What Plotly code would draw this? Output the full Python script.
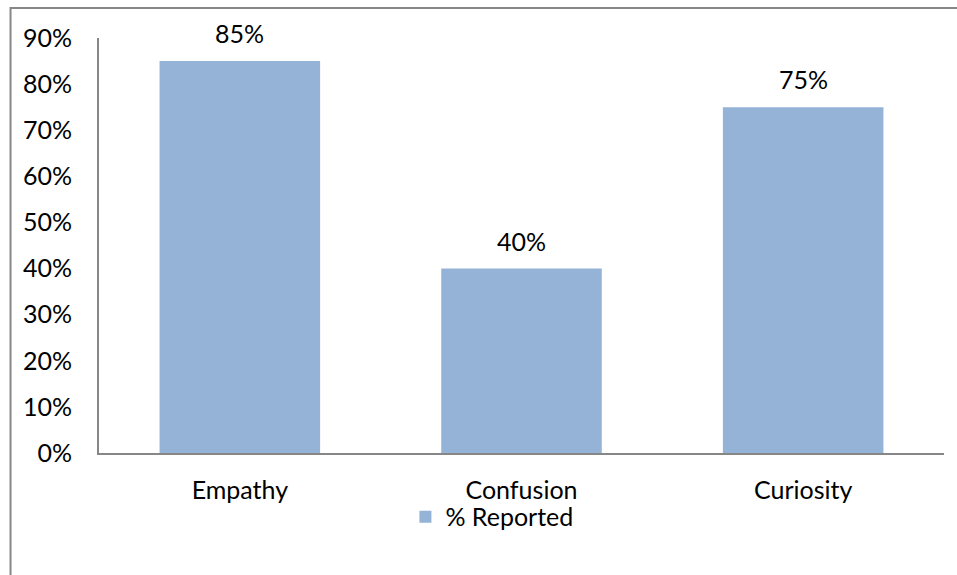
import plotly.graph_objects as go

categories = ["Empathy", "Confusion", "Curiosity"]
reported = [0.85, 0.40, 0.75]
series_name = "% Reported"
y_ticks = [0, 0.1, 0.2, 0.3, 0.4, 0.5, 0.6, 0.7, 0.8, 0.9]

FONT = "Lato, Carlito, Calibri, sans-serif"
FS = 25
BAR = "#95B3D7"
AX = "#878787"

fig = go.Figure()
fig.add_trace(go.Bar(
    x=categories, y=reported, name=series_name,
    marker=dict(color=BAR, line=dict(width=0)),
    showlegend=True,
))

for c, v in zip(categories, reported):
    fig.add_annotation(x=c, y=v, text=f"{round(v*100)}%", showarrow=False,
                       yanchor="bottom", yshift=11,
                       font=dict(family=FONT, size=FS, color="#000000"))

fig.update_layout(
    width=957, height=575,
    margin=dict(l=99, r=13, t=38, b=122),
    paper_bgcolor="white", plot_bgcolor="white",
    bargap=0.43,
    font=dict(family=FONT, size=FS, color="#000000"),
    showlegend=True,
    legend=dict(orientation="h", x=0.465, xanchor="center", y=-0.154, yanchor="middle",
                bgcolor="rgba(0,0,0,0)",
                font=dict(family=FONT, size=FS), itemwidth=30),
    xaxis=dict(showline=True, linecolor=AX, linewidth=2, showgrid=False, ticks="",
               ticklabelstandoff=14, zeroline=False),
    yaxis=dict(range=[0, 0.9], tickvals=y_ticks, tickformat=".0%", showline=True,
               linecolor=AX, linewidth=2, showgrid=False, zeroline=False, ticks="",
               ticklabelstandoff=20),
    shapes=[dict(type="rect", xref="paper", yref="paper",
                 x0=-0.1047, x1=1.2, y0=-0.5, y1=1.0723,
                 line=dict(color=AX, width=2), fillcolor="rgba(0,0,0,0)", layer="below")],
)

fig.write_html("out.html")
